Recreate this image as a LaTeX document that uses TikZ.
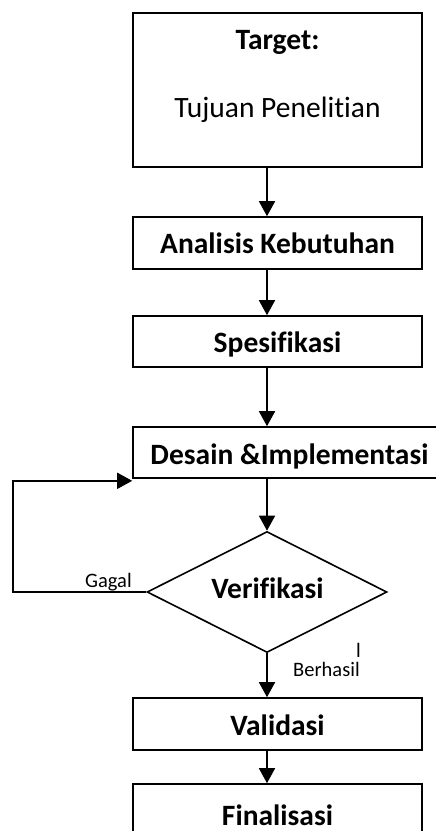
\documentclass[tikz,border=0pt]{standalone}
\usepackage{fontspec}
\setmainfont{Carlito}[Ligatures=NoCommon]
\usetikzlibrary{arrows.meta,shapes.geometric}
\begin{document}
\begin{tikzpicture}[x=1pt,y=-1pt,
  box/.style={draw,line width=1.6pt,inner sep=0pt,minimum width=289pt,minimum height=52pt},
  ttl/.style={font=\fontsize{29.5}{31}\selectfont\bfseries,inner sep=0pt,anchor=base},
  lbl/.style={font=\fontsize{20.5}{22}\selectfont,inner sep=0pt,anchor=base west},
  arr/.style={line width=1.6pt,-{Triangle[width=16pt,length=15pt]}},
  dec/.style={draw,diamond,line width=1.6pt,inner sep=0pt,shape aspect=2,minimum width=240pt,minimum height=121pt}]
\useasboundingbox (0,0) rectangle (436,831);
\clip (0,0) rectangle (436,831);
\coordinate (ax) at (267,0);
% boxes
\node[box,minimum height=154pt] (target) at (277.5,90) {};
\node[ttl] (tt) at (277.5,49) {Target:};
\node[inner sep=0pt,anchor=base,font=\fontsize{29.5}{31}\selectfont] (tp) at (277.5,117) {Tujuan Penelitian};
\node[box] (analisis) at (277.5,243) {};
\node[ttl] (ta) at (277.5,253) {Analisis Kebutuhan};
\node[box,minimum height=51pt] (spes) at (277.5,341.5) {};
\node[ttl] (ts) at (277.5,352) {Spesifikasi};
\node[box,minimum width=313pt,minimum height=51pt] (desain) at (289.5,452.5) {};
\node[ttl] (td) at (289.5,464) {Desain \&Implementasi};
\node[dec] (verif) at (267,592) {};
\node[ttl] (tv) at (267.5,598) {Verifikasi};
\node[box] (valid) at (277.5,724) {};
\node[ttl] (tva) at (277.5,735) {Validasi};
\node[box,minimum height=70pt] (final) at (277.5,819) {};
\node[ttl] (tf) at (277.5,825) {Finalisasi};
% labels
\node[lbl] (gagal) at (85,587) {Gagal};
\node[lbl] (berhasil) at (293,676) {Berhasil};
\node[lbl] (bar) at (356,657) {l};
% arrows
\draw[arr] (target.south -| ax) -- (analisis.north -| ax);
\draw[arr] (analisis.south -| ax) -- (spes.north -| ax);
\draw[arr] (spes.south -| ax) -- (desain.north -| ax);
\draw[arr] (desain.south -| ax) -- (verif.north);
\draw[arr] (verif.south) -- (valid.north -| ax);
\draw[arr] (valid.south -| ax) -- (final.north -| ax);
\coordinate (lp) at (13,0);
\draw[arr] (verif.west) -- (verif.west -| lp) |- ([yshift=-2pt]desain.south west);
\end{tikzpicture}
\end{document}
